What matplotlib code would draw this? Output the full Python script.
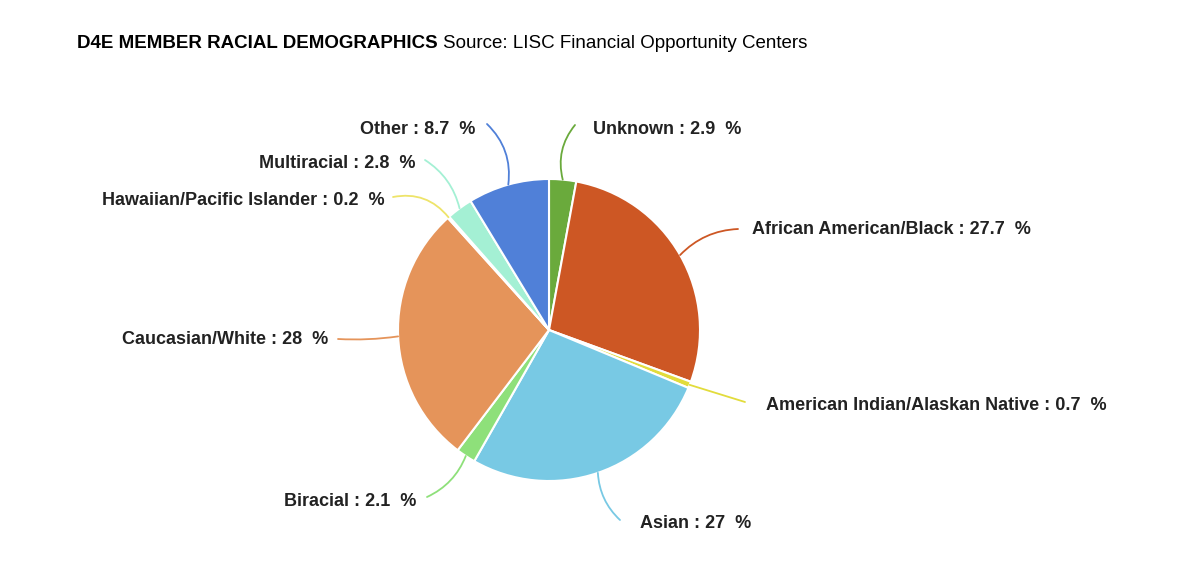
import matplotlib.pyplot as plt
import numpy as np

categories = ['Unknown', 'African American/Black', 'American Indian/Alaskan Native',
              'Asian', 'Biracial', 'Caucasian/White', 'Hawaiian/Pacific Islander',
              'Multiracial', 'Other']
shares = [2.9, 27.7, 0.7, 27, 2.1, 28, 0.2, 2.8, 8.7]
colors = ['#6aaa3c', '#cd5724', '#e2dc3c', '#78c9e4', '#8ee07a', '#e5945a',
          '#eee46a', '#a4f0d4', '#5080d8']

# label layout in pixels: (text x, text y, ha, leader start x, leader start y, curve)
label_pos = [
    (593, 129, 'left', 575, 125, 0.25),
    (752, 229, 'left', 738, 229, 0.2),
    (766, 406, 'left', 745, 402, 0.0),
    (640, 524, 'left', 620, 520, -0.2),
    (416, 501, 'right', 427, 497, 0.2),
    (328, 339, 'right', 338, 339, 0.05),
    (385, 201, 'right', 393, 197, -0.3),
    (415, 164, 'right', 425, 160, -0.2),
    (475, 129, 'right', 487, 124, -0.25),
]

W, H = 1194, 576
fig = plt.figure(figsize=(W / 100, H / 100), dpi=100)
plt.rcParams['font.family'] = ['Liberation Sans', 'DejaVu Sans']


def fx(x):
    return x / W


def fy(y):
    return 1 - y / H


cx, cy, r = 549, 330, 151
ax = fig.add_axes([fx(cx - r), fy(cy + r), 2 * r / W, 2 * r / H])
wedges, _ = ax.pie(shares, colors=colors, startangle=90, counterclock=False,
                   radius=1, wedgeprops=dict(edgecolor='white', linewidth=1.5))
ax.set_xlim(-1, 1)
ax.set_ylim(-1, 1)
ax.set_aspect('auto')
ax.axis('off')

for w, name, val, col, pos in zip(wedges, categories, shares, colors, label_pos):
    tx, ty, ha, lx, ly, rad = pos
    mid = np.deg2rad((w.theta1 + w.theta2) / 2)
    px, py = np.cos(mid), np.sin(mid)
    ax.annotate('', xy=(px, py), xycoords='data',
                xytext=(fx(lx), fy(ly)), textcoords='figure fraction',
                arrowprops=dict(arrowstyle='-', color=col, lw=1.3,
                                shrinkA=0, shrinkB=0,
                                connectionstyle=f'arc3,rad={rad}'))
    fig.text(fx(tx), fy(ty), f'{name} : {val:g}  %', ha=ha, va='center',
             fontsize=13, fontweight='bold', color='#222222')

t1 = fig.text(fx(77), fy(43), 'D4E MEMBER RACIAL DEMOGRAPHICS', fontsize=13.5,
              fontweight='bold', va='center', ha='left')
fig.canvas.draw()
bb = t1.get_window_extent()
fig.text(bb.x1 / W + 5 / W, fy(43), 'Source: LISC Financial Opportunity Centers',
         fontsize=13.5, va='center', ha='left')

fig.savefig('out.png', dpi=100)
